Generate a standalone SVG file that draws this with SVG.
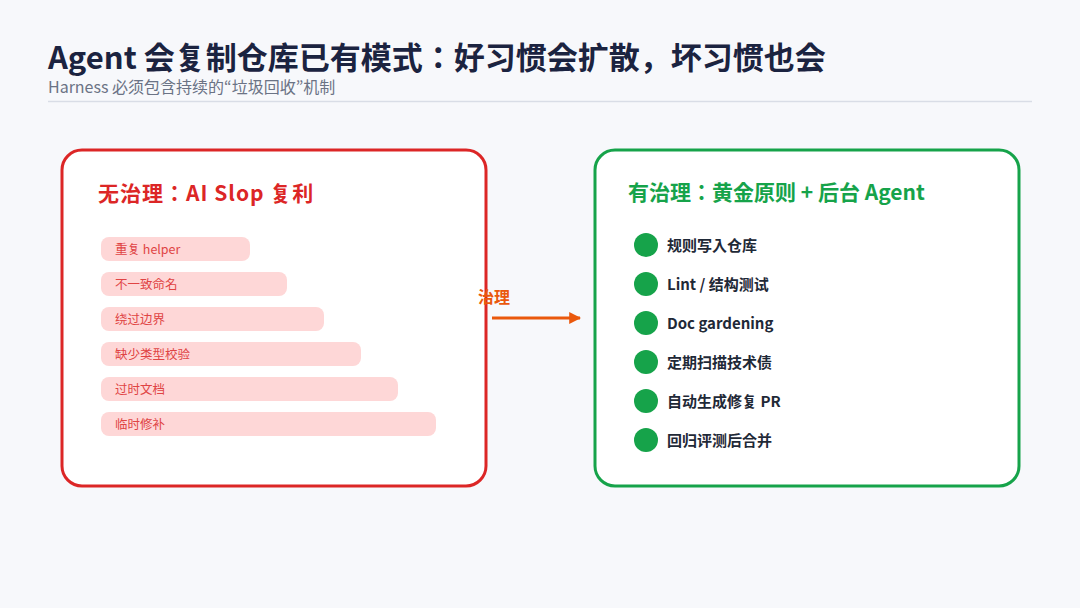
<svg xmlns="http://www.w3.org/2000/svg" width="1080" height="608" viewBox="0 0 1080 608">
<defs>
<style>
text{font-family:"Noto Sans CJK JP","Noto Sans CJK SC",sans-serif}
.title{font-size:31px;font-weight:700;fill:#1b2340}
.sub{font-size:16px;fill:#6b7385}
.panel{fill:#ffffff;stroke-width:3}
.ptitle{font-size:21px;font-weight:700}
.bar{fill:#fed7d7}
.bartxt{font-size:12.5px;fill:#e04444}
.dot{fill:#16a34a}
.item{font-size:15px;font-weight:700;fill:#1f2937}
</style>
<marker id="ah" viewBox="0 0 10 10" refX="9" refY="5" markerWidth="4" markerHeight="4" orient="auto" markerUnits="strokeWidth">
<path d="M0,0 L10,5 L0,10 z" fill="#ea580c"/>
</marker>
</defs>
<rect width="1080" height="608" fill="#f7f8fb"/>
<g id="header">
<text class="title" x="48" y="69">Agent 会复制仓库已有模式：好习惯会扩散，坏习惯也会</text>
<text class="sub" x="48" y="93">Harness 必须包含持续的“垃圾回收”机制</text>
<line x1="48" y1="101.5" x2="1032" y2="101.5" stroke="#d9dde6" stroke-width="1.5"/>
</g>
<g id="left">
<rect class="panel" x="62" y="150" width="424" height="336" rx="20" stroke="#dc2626"/>
<text class="ptitle" x="98" y="201" fill="#dc2626" letter-spacing="1">无治理：AI Slop 复利</text>
<rect class="bar" x="101" y="237" width="149" height="24" rx="8"/>
<text class="bartxt" x="115" y="254">重复 helper</text>
<rect class="bar" x="101" y="272" width="186" height="24" rx="8"/>
<text class="bartxt" x="115" y="289">不一致命名</text>
<rect class="bar" x="101" y="307" width="223" height="24" rx="8"/>
<text class="bartxt" x="115" y="324">绕过边界</text>
<rect class="bar" x="101" y="342" width="260" height="24" rx="8"/>
<text class="bartxt" x="115" y="359">缺少类型校验</text>
<rect class="bar" x="101" y="377" width="297" height="24" rx="8"/>
<text class="bartxt" x="115" y="394">过时文档</text>
<rect class="bar" x="101" y="412" width="335" height="24" rx="8"/>
<text class="bartxt" x="115" y="429">临时修补</text>
</g>
<g id="connectors">
<line x1="492" y1="318" x2="580" y2="318" stroke="#ea580c" stroke-width="3" marker-end="url(#ah)"/>
<text x="478" y="303" font-size="16" font-weight="700" fill="#ea580c">治理</text>
</g>
<g id="right">
<rect class="panel" x="595" y="150" width="424" height="336" rx="20" stroke="#16a34a"/>
<text class="ptitle" x="628" y="200" fill="#16a34a">有治理：黄金原则 + 后台 Agent</text>
<circle class="dot" cx="646" cy="245" r="12"/>
<text class="item" x="667" y="251">规则写入仓库</text>
<circle class="dot" cx="646" cy="284" r="12"/>
<text class="item" x="667" y="290">Lint / 结构测试</text>
<circle class="dot" cx="646" cy="323" r="12"/>
<text class="item" x="667" y="329">Doc gardening</text>
<circle class="dot" cx="646" cy="362" r="12"/>
<text class="item" x="667" y="368">定期扫描技术债</text>
<circle class="dot" cx="646" cy="401" r="12"/>
<text class="item" x="667" y="407">自动生成修复 PR</text>
<circle class="dot" cx="646" cy="440" r="12"/>
<text class="item" x="667" y="446">回归评测后合并</text>
</g>
</svg>
